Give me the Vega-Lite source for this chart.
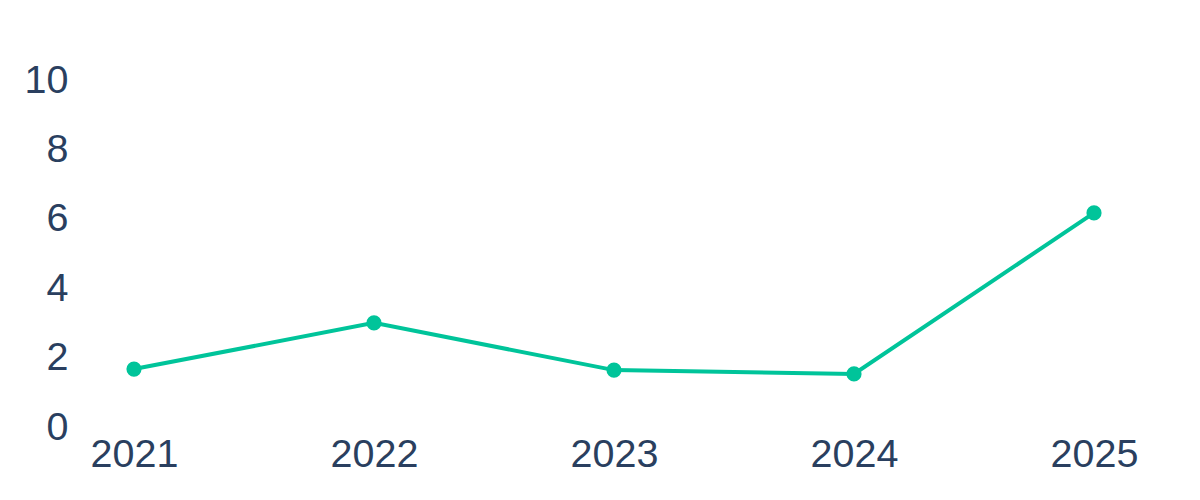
{
  "$schema": "https://vega.github.io/schema/vega-lite/v6.json",
  "width": 1072,
  "height": 347,
  "autosize": {"type": "none"},
  "padding": {"left": 78, "top": 80, "right": 50, "bottom": 73},
  "background": "white",
  "config": {
    "view": {"stroke": null},
    "font": "Liberation Sans",
    "axis": {
      "labelFont": "Liberation Sans",
      "labelFontSize": 39.5,
      "labelColor": "#2a3f5f",
      "domain": false,
      "ticks": false,
      "grid": false,
      "title": null
    }
  },
  "data": {
    "values": [
      {"year": "2021", "value": 1.67},
      {"year": "2022", "value": 3.0},
      {"year": "2023", "value": 1.64},
      {"year": "2024", "value": 1.53},
      {"year": "2025", "value": 6.17}
    ]
  },
  "encoding": {
    "x": {
      "field": "year",
      "type": "ordinal",
      "scale": {"type": "point", "padding": 0.2333},
      "axis": {"labelAngle": 0, "labelPadding": 8}
    },
    "y": {
      "field": "value",
      "type": "quantitative",
      "scale": {"domain": [0, 10], "nice": false, "zero": true},
      "axis": {"values": [0, 2, 4, 6, 8, 10], "labelPadding": 10}
    }
  },
  "layer": [
    {"mark": {"type": "line", "color": "#00c49a", "strokeWidth": 4}},
    {"mark": {"type": "point", "filled": true, "color": "#00c49a", "size": 230, "opacity": 1}}
  ]
}
